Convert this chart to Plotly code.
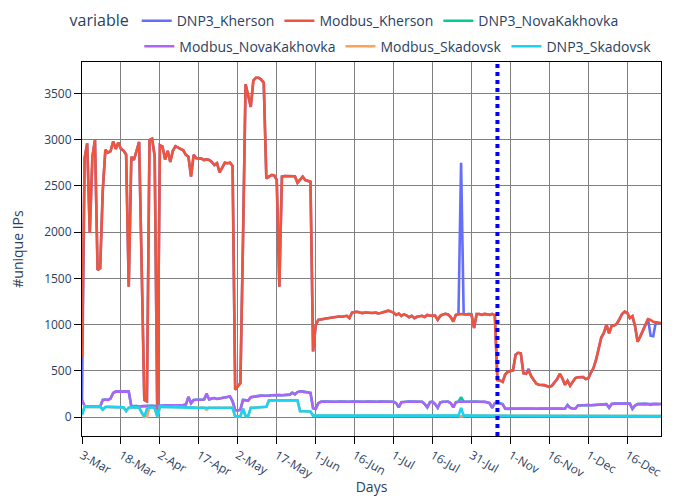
import pandas as pd
import plotly.graph_objects as go

# daily categories: 3 Mar - 9 Aug, then 27 Oct - 29 Dec (gap in collection)
days = [d.strftime("%-d-%b") for d in
        list(pd.date_range("2022-03-03", "2022-08-09")) + list(pd.date_range("2022-10-27", "2022-12-29"))]
tick_days = days[::15]
gap_day = "27-Oct"

modbus_kherson = [
    650, 2800, 2960, 1990, 2815, 3000, 1590, 1610, 2450, 2890, 2860, 2875, 2980, 2900, 2970,
    2900, 2880, 2840, 1410, 2815, 2780, 2880, 2975, 1600, 185, 170, 2995, 3010, 2820, 30,
    2940, 2925, 2785, 2880, 2760, 2880, 2930, 2915, 2895, 2885, 2835, 2815, 2600, 2835, 2800,
    2797, 2795, 2780, 2786, 2780, 2760, 2725, 2745, 2645, 2707, 2750, 2745, 2750, 2715, 295,
    330, 367, 1900, 3600, 3480, 3355, 3640, 3670, 3670, 3650, 3615, 2580, 2600, 2617, 2615,
    2565, 1410, 2600, 2606, 2606, 2613, 2610, 2605, 2534, 2570, 2600, 2563, 2555, 2545, 710,
    990, 1050, 1052, 1060, 1065, 1070, 1075, 1080, 1082, 1088, 1085, 1090, 1095, 1070, 1130,
    1135, 1138, 1130, 1124, 1130, 1128, 1120, 1125, 1130, 1122, 1125, 1135, 1140, 1150, 1140,
    1130, 1105, 1120, 1094, 1110, 1100, 1080, 1095, 1070, 1085, 1090, 1095, 1082, 1105, 1095,
    1100, 1098, 1052, 1095, 1110, 1117, 1110, 1082, 1033, 1105, 1115, 1115, 1112, 1108, 1115,
    1110, 962, 1115, 1115, 1105, 1115, 1110, 1105, 1115, 1100, 400, 396, 380, 460, 490,
    495, 505, 673, 695, 690, 475, 468, 500, 440, 400, 360, 350, 350, 345, 335,
    325, 340, 380, 410, 468, 420, 350, 392, 339, 386, 422, 430, 430, 432, 410,
    420, 480, 530, 620, 760, 860, 910, 1000, 905, 985, 990, 1010, 1060, 1115, 1140,
    1125, 1070, 1090, 985, 815, 870, 935, 990, 1060, 1050, 1030, 1025, 1020, 1015,
]

dnp3_kherson = [
    160, 2800, 2960, 1990, 2815, 3000, 1590, 1610, 2450, 2890, 2860, 2875, 2980, 2900, 2970,
    2900, 2880, 2840, 1410, 2815, 2780, 2880, 2975, 1600, 185, 170, 2995, 3010, 2820, 30,
    2940, 2925, 2785, 2880, 2760, 2880, 2930, 2915, 2895, 2885, 2835, 2815, 2600, 2835, 2800,
    2797, 2795, 2780, 2786, 2780, 2760, 2725, 2745, 2645, 2707, 2750, 2745, 2750, 2715, 295,
    330, 367, 1900, 3600, 3480, 3355, 3640, 3670, 3670, 3650, 3615, 2580, 2600, 2617, 2615,
    2565, 1410, 2600, 2606, 2606, 2613, 2610, 2605, 2534, 2570, 2600, 2563, 2555, 2545, 710,
    990, 1050, 1052, 1060, 1065, 1070, 1075, 1080, 1082, 1088, 1085, 1090, 1095, 1070, 1130,
    1135, 1138, 1130, 1124, 1130, 1128, 1120, 1125, 1130, 1122, 1125, 1135, 1140, 1150, 1140,
    1130, 1105, 1120, 1094, 1110, 1100, 1080, 1095, 1070, 1085, 1090, 1095, 1082, 1105, 1095,
    1100, 1098, 1052, 1095, 1110, 1117, 1110, 1082, 1033, 1105, 1110, 2750, 1112, 1108, 1115,
    1110, 962, 1115, 1115, 1105, 1115, 1110, 1105, 1115, 1100, 400, 396, 380, 460, 490,
    495, 505, 673, 695, 690, 475, 468, 520, 440, 400, 360, 350, 350, 345, 335,
    325, 340, 380, 410, 468, 420, 350, 392, 339, 386, 422, 430, 430, 432, 410,
    420, 480, 530, 620, 760, 860, 910, 1000, 905, 985, 990, 1010, 1060, 1115, 1140,
    1125, 1070, 1090, 985, 815, 870, 935, 990, 1060, 880, 875, 1025, 1020, 1015,
]

modbus_novakakhovka = [
    185, 120, 115, 118, 115, 115, 112, 115, 185, 190, 185, 200, 260, 275, 278,
    278, 278, 278, 275, 115, 118, 120, 115, 118, 120, 118, 120, 122, 120, 125,
    122, 125, 125, 128, 125, 130, 128, 130, 132, 130, 135, 220, 150, 185, 187,
    190, 188, 190, 255, 190, 200, 205, 195, 200, 210, 215, 218, 222, 170, 75,
    72, 80, 185, 180, 178, 215, 220, 225, 230, 232, 230, 235, 232, 235, 238,
    235, 238, 236, 238, 240, 242, 265, 245, 270, 278, 275, 272, 270, 262, 95,
    88, 150, 165, 168, 166, 165, 167, 166, 165, 168, 166, 165, 167, 166, 168,
    166, 165, 167, 166, 165, 168, 166, 167, 165, 166, 168, 166, 165, 167, 166,
    165, 150, 105, 160, 166, 165, 167, 166, 165, 168, 166, 165, 140, 105, 160,
    166, 140, 100, 158, 166, 165, 167, 150, 105, 160, 166, 168, 166, 165, 167,
    166, 165, 167, 166, 165, 168, 160, 150, 100, 150, 150, 148, 140, 90, 88,
    90, 92, 90, 91, 93, 95, 92, 90, 91, 92, 90, 91, 93, 92, 90,
    91, 92, 90, 92, 93, 91, 90, 130, 100, 92, 90, 125, 128, 130, 128,
    130, 128, 130, 132, 130, 128, 130, 140, 100, 142, 145, 144, 145, 146, 145,
    144, 145, 88, 125, 140, 138, 140, 142, 140, 138, 140, 142, 140, 141,
]

dnp3_novakakhovka = [
    180, 120, 115, 118, 115, 115, 112, 115, 185, 190, 185, 200, 260, 275, 278,
    278, 278, 278, 275, 115, 118, 120, 115, 118, 120, 118, 120, 122, 120, 125,
    122, 125, 125, 128, 125, 130, 128, 130, 132, 130, 135, 215, 150, 185, 187,
    190, 188, 190, 240, 190, 200, 205, 195, 200, 210, 215, 218, 222, 170, 75,
    72, 80, 185, 180, 178, 215, 220, 225, 230, 232, 230, 235, 232, 235, 238,
    235, 238, 236, 238, 240, 242, 262, 245, 270, 278, 275, 272, 270, 262, 95,
    88, 150, 165, 168, 166, 165, 167, 166, 165, 168, 166, 165, 167, 166, 168,
    166, 165, 167, 166, 165, 168, 166, 167, 165, 166, 168, 166, 165, 167, 166,
    165, 150, 105, 160, 166, 165, 167, 166, 165, 168, 166, 165, 140, 105, 160,
    166, 140, 100, 158, 166, 165, 167, 150, 105, 160, 166, 215, 166, 165, 167,
    166, 165, 167, 166, 165, 168, 160, 150, 100, 150, 150, 148, 140, 90, 88,
    90, 92, 90, 91, 93, 92, 90, 88, 91, 92, 90, 91, 93, 92, 90,
    91, 92, 90, 92, 93, 91, 90, 130, 100, 92, 90, 125, 128, 130, 128,
    130, 128, 130, 132, 130, 128, 130, 140, 100, 142, 145, 144, 145, 146, 145,
    144, 145, 88, 125, 140, 138, 140, 142, 140, 132, 140, 142, 140, 141,
]

modbus_skadovsk = [
    25, 115, 108, 110, 108, 110, 108, 110, 80, 108, 110, 108, 110, 108, 105,
    108, 105, 65, 100, 105, 108, 105, 100, 40, 0, 2, 105, 105, 95, 5,
    110, 108, 108, 110, 108, 108, 110, 108, 108, 110, 108, 108, 105, 102, 100,
    100, 102, 100, 78, 102, 100, 100, 102, 100, 100, 102, 100, 100, 100, 8,
    5, 10, 90, 12, 10, 100, 100, 102, 100, 100, 102, 110, 180, 182, 180,
    182, 180, 182, 180, 182, 180, 182, 180, 180, 62, 62, 60, 62, 60, 15,
    15, 15, 15, 15, 15, 15, 15, 15, 15, 15, 15, 15, 15, 15, 15,
    15, 15, 15, 15, 15, 15, 15, 15, 15, 15, 15, 15, 15, 15, 15,
    15, 15, 15, 15, 15, 15, 15, 15, 15, 15, 15, 15, 15, 15, 15,
    15, 15, 15, 15, 15, 15, 15, 15, 15, 15, 15, 5, 15, 15, 15,
    15, 15, 15, 15, 15, 15, 15, 15, 15, 15, 10, 10, 10, 10, 10,
    10, 10, 10, 10, 10, 10, 10, 10, 10, 10, 10, 10, 10, 10, 10,
    10, 10, 10, 10, 10, 10, 10, 10, 10, 10, 10, 10, 10, 10, 10,
    10, 10, 10, 10, 10, 10, 10, 10, 10, 10, 10, 10, 10, 10, 10,
    10, 10, 10, 10, 10, 10, 10, 10, 10, 10, 10, 10, 10, 10,
]

dnp3_skadovsk = [
    25, 110, 108, 110, 108, 110, 108, 110, 80, 108, 110, 108, 110, 108, 105,
    108, 105, 65, 100, 105, 108, 105, 100, 50, 5, 90, 105, 105, 95, 8,
    110, 108, 108, 110, 108, 108, 110, 108, 108, 110, 108, 108, 105, 102, 100,
    100, 102, 100, 100, 102, 100, 100, 102, 100, 100, 102, 100, 100, 100, 8,
    5, 10, 90, 12, 10, 100, 100, 102, 100, 100, 102, 110, 180, 182, 180,
    182, 180, 182, 180, 182, 180, 182, 180, 180, 62, 62, 60, 62, 60, 15,
    15, 15, 15, 15, 15, 15, 15, 15, 15, 15, 15, 15, 15, 15, 15,
    15, 15, 15, 15, 15, 15, 15, 15, 15, 15, 15, 15, 15, 15, 15,
    15, 15, 15, 15, 15, 15, 15, 15, 15, 15, 15, 15, 15, 15, 15,
    15, 15, 15, 15, 15, 15, 15, 15, 15, 15, 15, 100, 15, 15, 15,
    15, 15, 15, 15, 15, 15, 15, 15, 15, 15, 10, 10, 10, 10, 10,
    10, 10, 10, 10, 10, 10, 10, 10, 10, 10, 10, 10, 10, 10, 10,
    10, 10, 10, 10, 10, 10, 10, 10, 10, 10, 10, 10, 10, 10, 10,
    10, 10, 10, 10, 10, 10, 10, 10, 10, 10, 10, 10, 10, 10, 10,
    10, 10, 10, 10, 10, 10, 10, 10, 10, 10, 10, 10, 10, 10,
]

# (name, values, colour, legend row)
series = [
    ("DNP3_Kherson", dnp3_kherson, "#636EFA", "legend"),
    ("Modbus_Kherson", modbus_kherson, "#EF553B", "legend"),
    ("DNP3_NovaKakhovka", dnp3_novakakhovka, "#00CC96", "legend"),
    ("Modbus_NovaKakhovka", modbus_novakakhovka, "#AB63FA", "legend2"),
    ("Modbus_Skadovsk", modbus_skadovsk, "#FFA15A", "legend2"),
    ("DNP3_Skadovsk", dnp3_skadovsk, "#19D3F3", "legend2"),
]

fig = go.Figure()
for name, vals, color, leg in series:
    assert len(vals) == len(days), (name, len(vals), len(days))
    fig.add_trace(go.Scatter(x=days, y=vals, mode="lines", name=name, legend=leg,
                             line=dict(color=color, width=2.6)))

# start of the second collection period
fig.add_shape(type="line", xref="x", yref="paper", x0=gap_day, x1=gap_day, y0=0, y1=1,
              line=dict(color="blue", width=4, dash="dot"))

fig.update_layout(
    width=673, height=488,
    margin=dict(l=74, r=20, t=54, b=60, autoexpand=False),
    plot_bgcolor="white",
    paper_bgcolor="white",
    font=dict(family="Open Sans, verdana, arial, sans-serif", color="#2a3f5f", size=12),
    # legend split in two free-flowing rows
    legend=dict(title=dict(text="variable", font=dict(size=16)), font=dict(size=14),
                bgcolor="rgba(0,0,0,0)",
                orientation="h", xanchor="left", x=-0.025, yanchor="top", y=1.152),
    legend2=dict(font=dict(size=14), bgcolor="rgba(0,0,0,0)",
                 orientation="h", xanchor="left", x=0.099, yanchor="top", y=1.084),
)
fig.update_xaxes(
    title=dict(text="Days", font=dict(size=14), standoff=9),
    type="category", range=[0, len(days) - 1],
    tickmode="array", tickvals=tick_days, ticktext=tick_days, tickangle=30,
    showgrid=True, gridcolor="gray", showline=True, linecolor="black", mirror=True,
    ticks="outside", tickcolor="black", ticklen=7, automargin=False,
)
fig.update_yaxes(
    title=dict(text="#unique IPs", font=dict(size=14), standoff=20),
    range=[-205, 3840], dtick=500,
    showgrid=True, gridcolor="gray", zeroline=False, showline=True, linecolor="black", mirror=True,
    ticks="outside", tickcolor="black", ticklen=7, automargin=False,
)

fig.write_html("out.html")
